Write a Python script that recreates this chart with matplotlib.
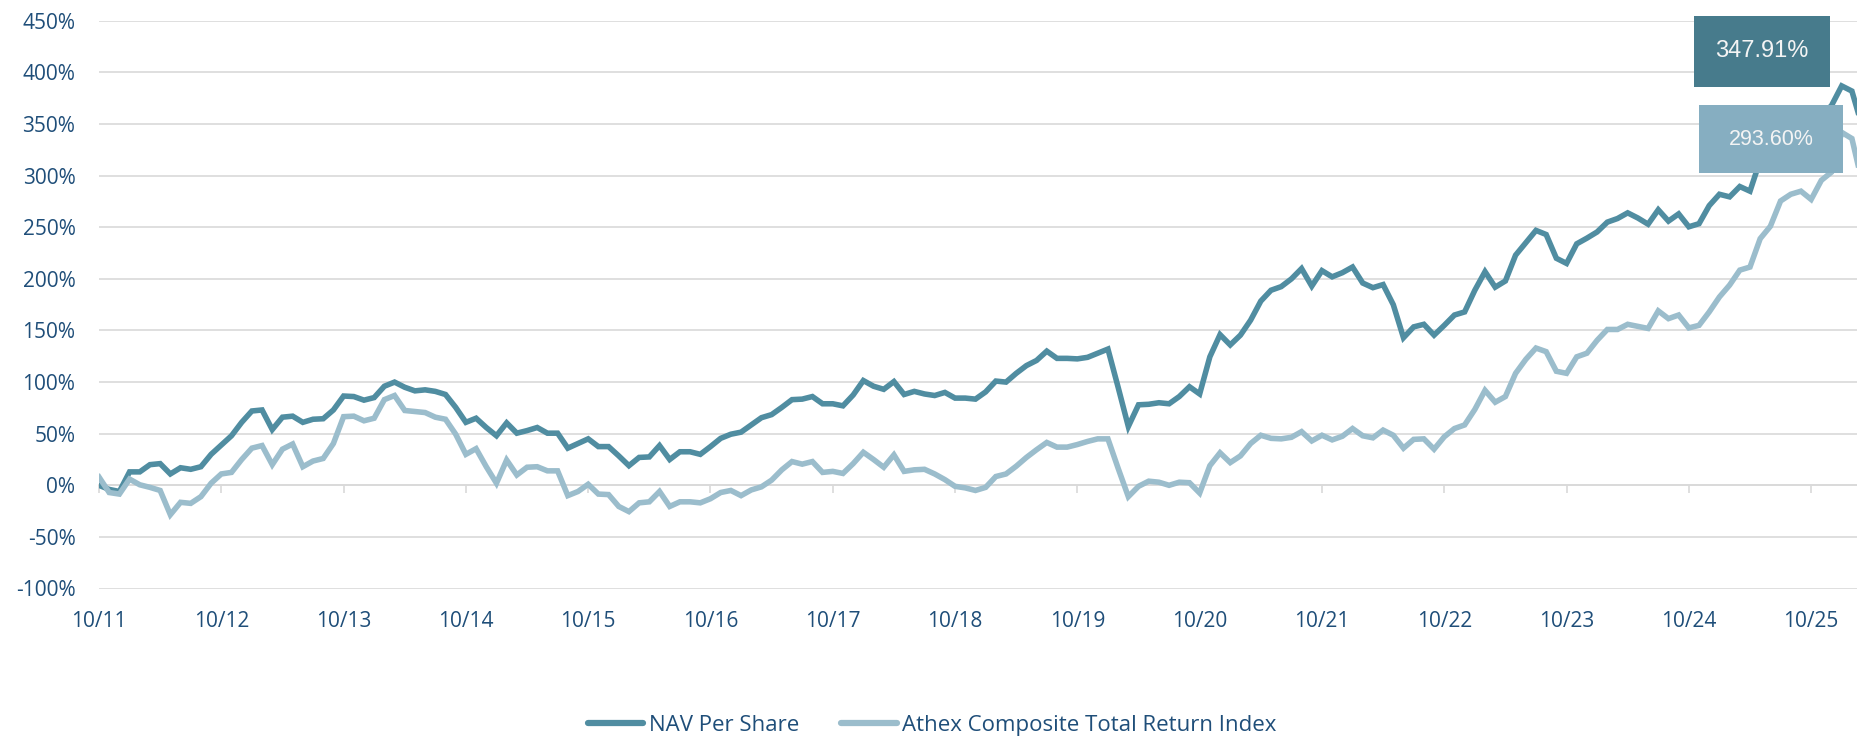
import matplotlib
matplotlib.use('Agg')
import matplotlib.pyplot as plt
from matplotlib.ticker import FuncFormatter
from matplotlib.lines import Line2D
import numpy as np

# Monthly cumulative returns (%), Oct 2011 .. Mar 2026
nav = [0, -4, -6, 13, 13, 20, 21, 11, 17, 15.5, 18, 30,
       39, 48, 61, 72, 73, 54, 66, 67, 61, 64, 64.5, 73,
       86.5, 86, 82.5, 85, 96, 100, 95, 91.5, 92.5, 91, 88, 75.5,
       61, 65, 56, 48, 60.5, 50.5, 53, 56, 50.5, 50.5, 36, 40.5,
       45, 37.5, 37.5, 28.5, 19, 27, 27.5, 38.5, 25, 32.5, 32.5, 30,
       37.5, 45.5, 49.5, 51.5, 58.5, 65.5, 68.5, 75.5, 83, 83.5, 86, 79,
       79, 77, 87.5, 101.5, 96, 93, 100.5, 88, 91, 88.5, 87, 90,
       84.5, 84.5, 83.5, 90.5, 101, 100, 108.5, 116, 121, 130, 123, 123,
       122.5, 124, 128, 132, 95, 57, 78, 78.5, 80, 79, 86, 95.5,
       88.5, 124.5, 146, 136, 145.5, 160, 178.5, 189, 192.5, 200, 210, 193,
       208, 202, 206, 211.5, 196, 191.5, 194.5, 175, 143, 153.5, 156, 145.5,
       155, 165, 168, 189, 207, 192, 198, 223, 235, 247, 243, 220,
       215, 234, 239.5, 245.5, 255, 258.5, 264, 259, 253, 267, 256, 263,
       250.5, 253.5, 271, 282, 279.5, 289.5, 285, 315, 325, 335, 342, 345,
       350, 358, 368, 387, 382, 347.91]

athex = [8, -7, -8.5, 6, 0.5, -2, -5, -28.5, -16.5, -17.5, -11, 2,
         11, 12.5, 25, 36, 38.5, 20, 35, 40, 18, 23.5, 26, 40.5,
         66.5, 67, 62.5, 65, 83, 87, 72.5, 71.5, 70.5, 66, 64, 49.5,
         30, 35.5, 18, 2, 24.5, 10, 17.5, 18, 14, 14, -10, -6,
         1, -8.5, -9, -20.5, -25.5, -17, -16, -6, -20.5, -16, -16, -17,
         -13, -7, -5, -10, -4.5, -1.5, 5, 15, 23, 20.5, 23, 12.5,
         13.5, 11.5, 21, 32, 25, 17.5, 29.5, 13.5, 15, 15.5, 11, 5.5,
         -1, -2.5, -5, -2, 8.5, 11, 18.5, 27, 34.5, 41.5, 37, 37,
         39.5, 42.5, 45, 45, 16.5, -11, -1, 4, 3, 0, 3, 2.5,
         -7.5, 19, 31.5, 22, 28.5, 40.5, 48.5, 45.5, 45, 46.5, 52, 43,
         48.5, 44, 47.5, 55, 48, 46, 53.5, 48.5, 36, 44.5, 45, 35,
         47, 55, 58.5, 73.5, 92, 80.5, 86, 108.5, 122, 133, 129.5, 110.5,
         108.5, 124.5, 128, 140.5, 151, 151, 156, 154, 152, 169, 161.5, 165,
         152.5, 155, 168, 182.5, 194, 208.5, 211.5, 239, 251, 275.5, 282, 285,
         277, 295.5, 303.5, 342, 336, 293.6]

tick_labels = ['10/11', '10/12', '10/13', '10/14', '10/15', '10/16', '10/17', '10/18',
               '10/19', '10/20', '10/21', '10/22', '10/23', '10/24', '10/25']
series_names = ['NAV Per Share', 'Athex Composite Total Return Index']
nav_last_label = '347.91%'
athex_last_label = '293.60%'

TEXT = '#1f4e79'
NAV_C = '#508da1'
ATH_C = '#9bbdcc'
NAV_BOX = '#477b8c'
ATH_BOX = '#86aec1'
GRID = '#d9d9d9'
FONT = 'Open Sans'

x = np.arange(len(nav))

W, H = 1857, 737
fig = plt.figure(figsize=(W / 100, H / 100), dpi=100)
left, right, top, bottom = 99, 1857, 20.9, 588.5
ax = fig.add_axes([left / W, 1 - bottom / H, (right - left) / W, (bottom - top) / H])

ax.set_xlim(0, 172.5)
ax.set_ylim(-100, 450)
ax.set_yticks(np.arange(-100, 451, 50))
ax.yaxis.set_major_formatter(FuncFormatter(lambda v, p: f'{v:.0f}%'))
ax.grid(axis='y', color=GRID, lw=1.2)
ax.set_axisbelow(True)
for s in ax.spines.values():
    s.set_visible(False)
ax.tick_params(axis='y', length=0, pad=17, labelsize=15, labelcolor=TEXT)
for lab in ax.get_yticklabels():
    lab.set_family(FONT)

# horizontal axis crosses at 0 with tick marks there
ax.spines['bottom'].set_visible(True)
ax.spines['bottom'].set_position(('data', 0))
ax.spines['bottom'].set_color(GRID)
ax.spines['bottom'].set_linewidth(1.2)
ticks = np.arange(0, 12 * len(tick_labels), 12)
ax.set_xticks(ticks)
ax.tick_params(axis='x', length=6, width=1.2, color=GRID, labelbottom=False)

sec = ax.secondary_xaxis('bottom')
sec.set_xticks(ticks)
sec.set_xticklabels(tick_labels)
sec.tick_params(axis='x', length=0, pad=16, labelsize=15, labelcolor=TEXT)
for lab in sec.get_xticklabels():
    lab.set_family(FONT)
sec.spines['bottom'].set_visible(False)

ax.plot(x, nav, color=NAV_C, lw=4.0, solid_joinstyle='miter', zorder=3)
ax.plot(x, athex, color=ATH_C, lw=4.0, solid_joinstyle='miter', zorder=3)

ax.annotate(nav_last_label, xy=(x[-1], nav[-1]), xytext=(-100, 75),
            textcoords='offset pixels', ha='center', va='center',
            fontsize=17, family='Liberation Sans', color='#f4f4f4',
            bbox=dict(boxstyle='square,pad=0.89', fc=NAV_BOX, ec='none',
                      mutation_aspect=1.17),
            annotation_clip=False, zorder=6)
ax.annotate(athex_last_label, xy=(x[-1], athex[-1]), xytext=(-91, 43),
            textcoords='offset pixels', ha='center', va='center',
            fontsize=15.5, family='Liberation Sans', color='#f4f4f4',
            bbox=dict(boxstyle='square,pad=1.39', fc=ATH_BOX, ec='none',
                      mutation_aspect=0.79),
            annotation_clip=False, zorder=6)

handles = [Line2D([0], [0], color=NAV_C, lw=4.5, solid_capstyle='round'),
           Line2D([0], [0], color=ATH_C, lw=4.5, solid_capstyle='round')]
leg = fig.legend(handles, series_names, loc='center', bbox_to_anchor=(0.502, 0.016),
                 ncol=2, frameon=False, handlelength=2.5, handletextpad=0.25,
                 columnspacing=1.9, prop={'family': FONT, 'size': 16})
for t in leg.get_texts():
    t.set_color(TEXT)

fig.savefig('out.png', dpi=100)
